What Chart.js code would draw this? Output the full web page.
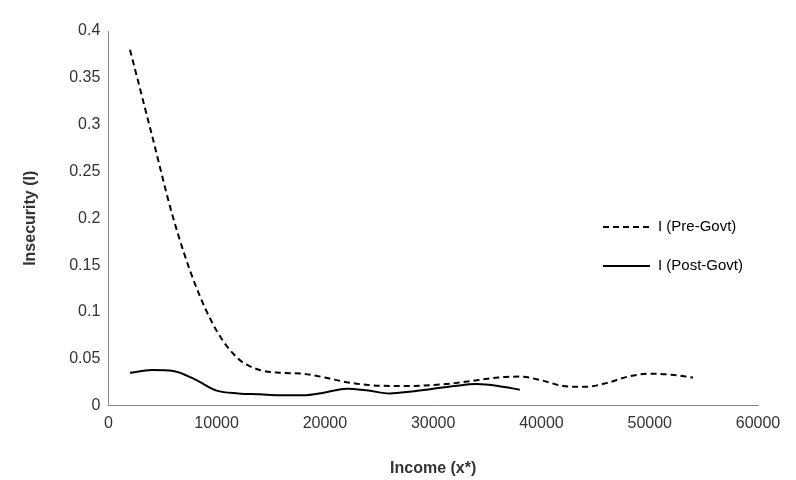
<!DOCTYPE html>
<html>
<head>
<meta charset="utf-8">
<script src="https://cdn.jsdelivr.net/npm/chart.js@4.4.0/dist/chart.umd.min.js"></script>
<style>
  html, body { margin: 0; padding: 0; background: #fff; }
  #wrap { width: 796px; height: 480px; }
</style>
</head>
<body>
<div id="wrap"><canvas id="chart" width="796" height="480"></canvas></div>
<script>
// Income points (x*)
const incomePre = [2000, 4000, 6000, 8000, 10000, 12000, 14000, 16000, 18000, 20000, 22000, 24000, 26000, 28000,
    30000, 32000, 34000, 36000, 38000, 40000, 42000, 44000, 46000, 48000, 50000, 52000, 54000];
const insecurityPre = [0.38, 0.29, 0.2, 0.13, 0.08, 0.05, 0.038, 0.035, 0.034, 0.03, 0.025, 0.022, 0.021, 0.021,
    0.022, 0.024, 0.027, 0.03, 0.031, 0.027, 0.021, 0.02, 0.024, 0.031, 0.034, 0.033, 0.03];
const incomePost = [2000, 4000, 6000, 8000, 10000, 12000, 14000, 16000, 18000, 20000, 22000, 24000, 26000, 28000,
    30000, 32000, 34000, 36000, 38000];
const insecurityPost = [0.035, 0.038, 0.037, 0.028, 0.016, 0.013, 0.012, 0.011, 0.011, 0.014, 0.018, 0.016, 0.013,
    0.015, 0.018, 0.021, 0.023, 0.021, 0.017];

const seriesNames = ['I (Pre-Govt)', 'I (Post-Govt)'];

function toPoints(xs, ys) {
    return xs.map((x, i) => ({ x: x, y: ys[i] }));
}

// Legend drawn inside the plot, like the original
const insideLegend = {
    id: 'insideLegend',
    afterDraw(chart) {
        const ctx = chart.ctx;
        const rows = [{ y: 227, dash: [6, 4] }, { y: 266, dash: [] }];
        ctx.save();
        ctx.font = '15px "Liberation Sans", Arial, sans-serif';
        ctx.fillStyle = '#000';
        ctx.textBaseline = 'middle';
        rows.forEach((r, i) => {
            ctx.beginPath();
            ctx.setLineDash(r.dash);
            ctx.lineWidth = 2;
            ctx.strokeStyle = '#000';
            ctx.moveTo(603, r.y);
            ctx.lineTo(650, r.y);
            ctx.stroke();
            ctx.fillText(seriesNames[i], 658, r.y);
        });
        ctx.restore();
    }
};

new Chart(document.getElementById('chart'), {
    type: 'scatter',
    data: {
        datasets: [{
            label: seriesNames[0],
            data: toPoints(incomePre, insecurityPre),
            showLine: true,
            borderColor: '#000',
            borderWidth: 2,
            borderDash: [6, 4],
            pointRadius: 0,
            cubicInterpolationMode: 'monotone'
        }, {
            label: seriesNames[1],
            data: toPoints(incomePost, insecurityPost),
            showLine: true,
            borderColor: '#000',
            borderWidth: 2,
            pointRadius: 0,
            cubicInterpolationMode: 'monotone'
        }]
    },
    options: {
        responsive: false,
        animation: false,
        layout: { padding: { left: 21, right: 38, top: 31, bottom: 2 } },
        plugins: { legend: { display: false }, tooltip: { enabled: false } },
        scales: {
            x: {
                min: 0, max: 60000,
                ticks: { stepSize: 10000, color: '#333', font: { size: 16, family: 'Liberation Sans' }, maxRotation: 0,
                    callback: v => String(v) },
                grid: { display: false, drawTicks: true, tickLength: 5, color: '#888' },
                border: { color: '#888' },
                title: { display: true, text: 'Income (x*)', color: '#333', padding: { top: 23, bottom: 0 },
                    font: { size: 16, weight: 'bold', family: 'Liberation Sans' } }
            },
            y: {
                min: 0, max: 0.4,
                ticks: { stepSize: 0.05, color: '#333', font: { size: 16, family: 'Liberation Sans' },
                    callback: v => Number(v.toFixed(2)) === 0 ? '0' : String(Number(v.toFixed(2))) },
                grid: { display: false, tickLength: 5, color: '#888' },
                border: { color: '#888' },
                title: { display: true, text: 'Insecurity (I)', color: '#333', padding: { top: 0, bottom: 26 },
                    font: { size: 16, weight: 'bold', family: 'Liberation Sans' } }
            }
        }
    },
    plugins: [insideLegend]
});
</script>
</body>
</html>
